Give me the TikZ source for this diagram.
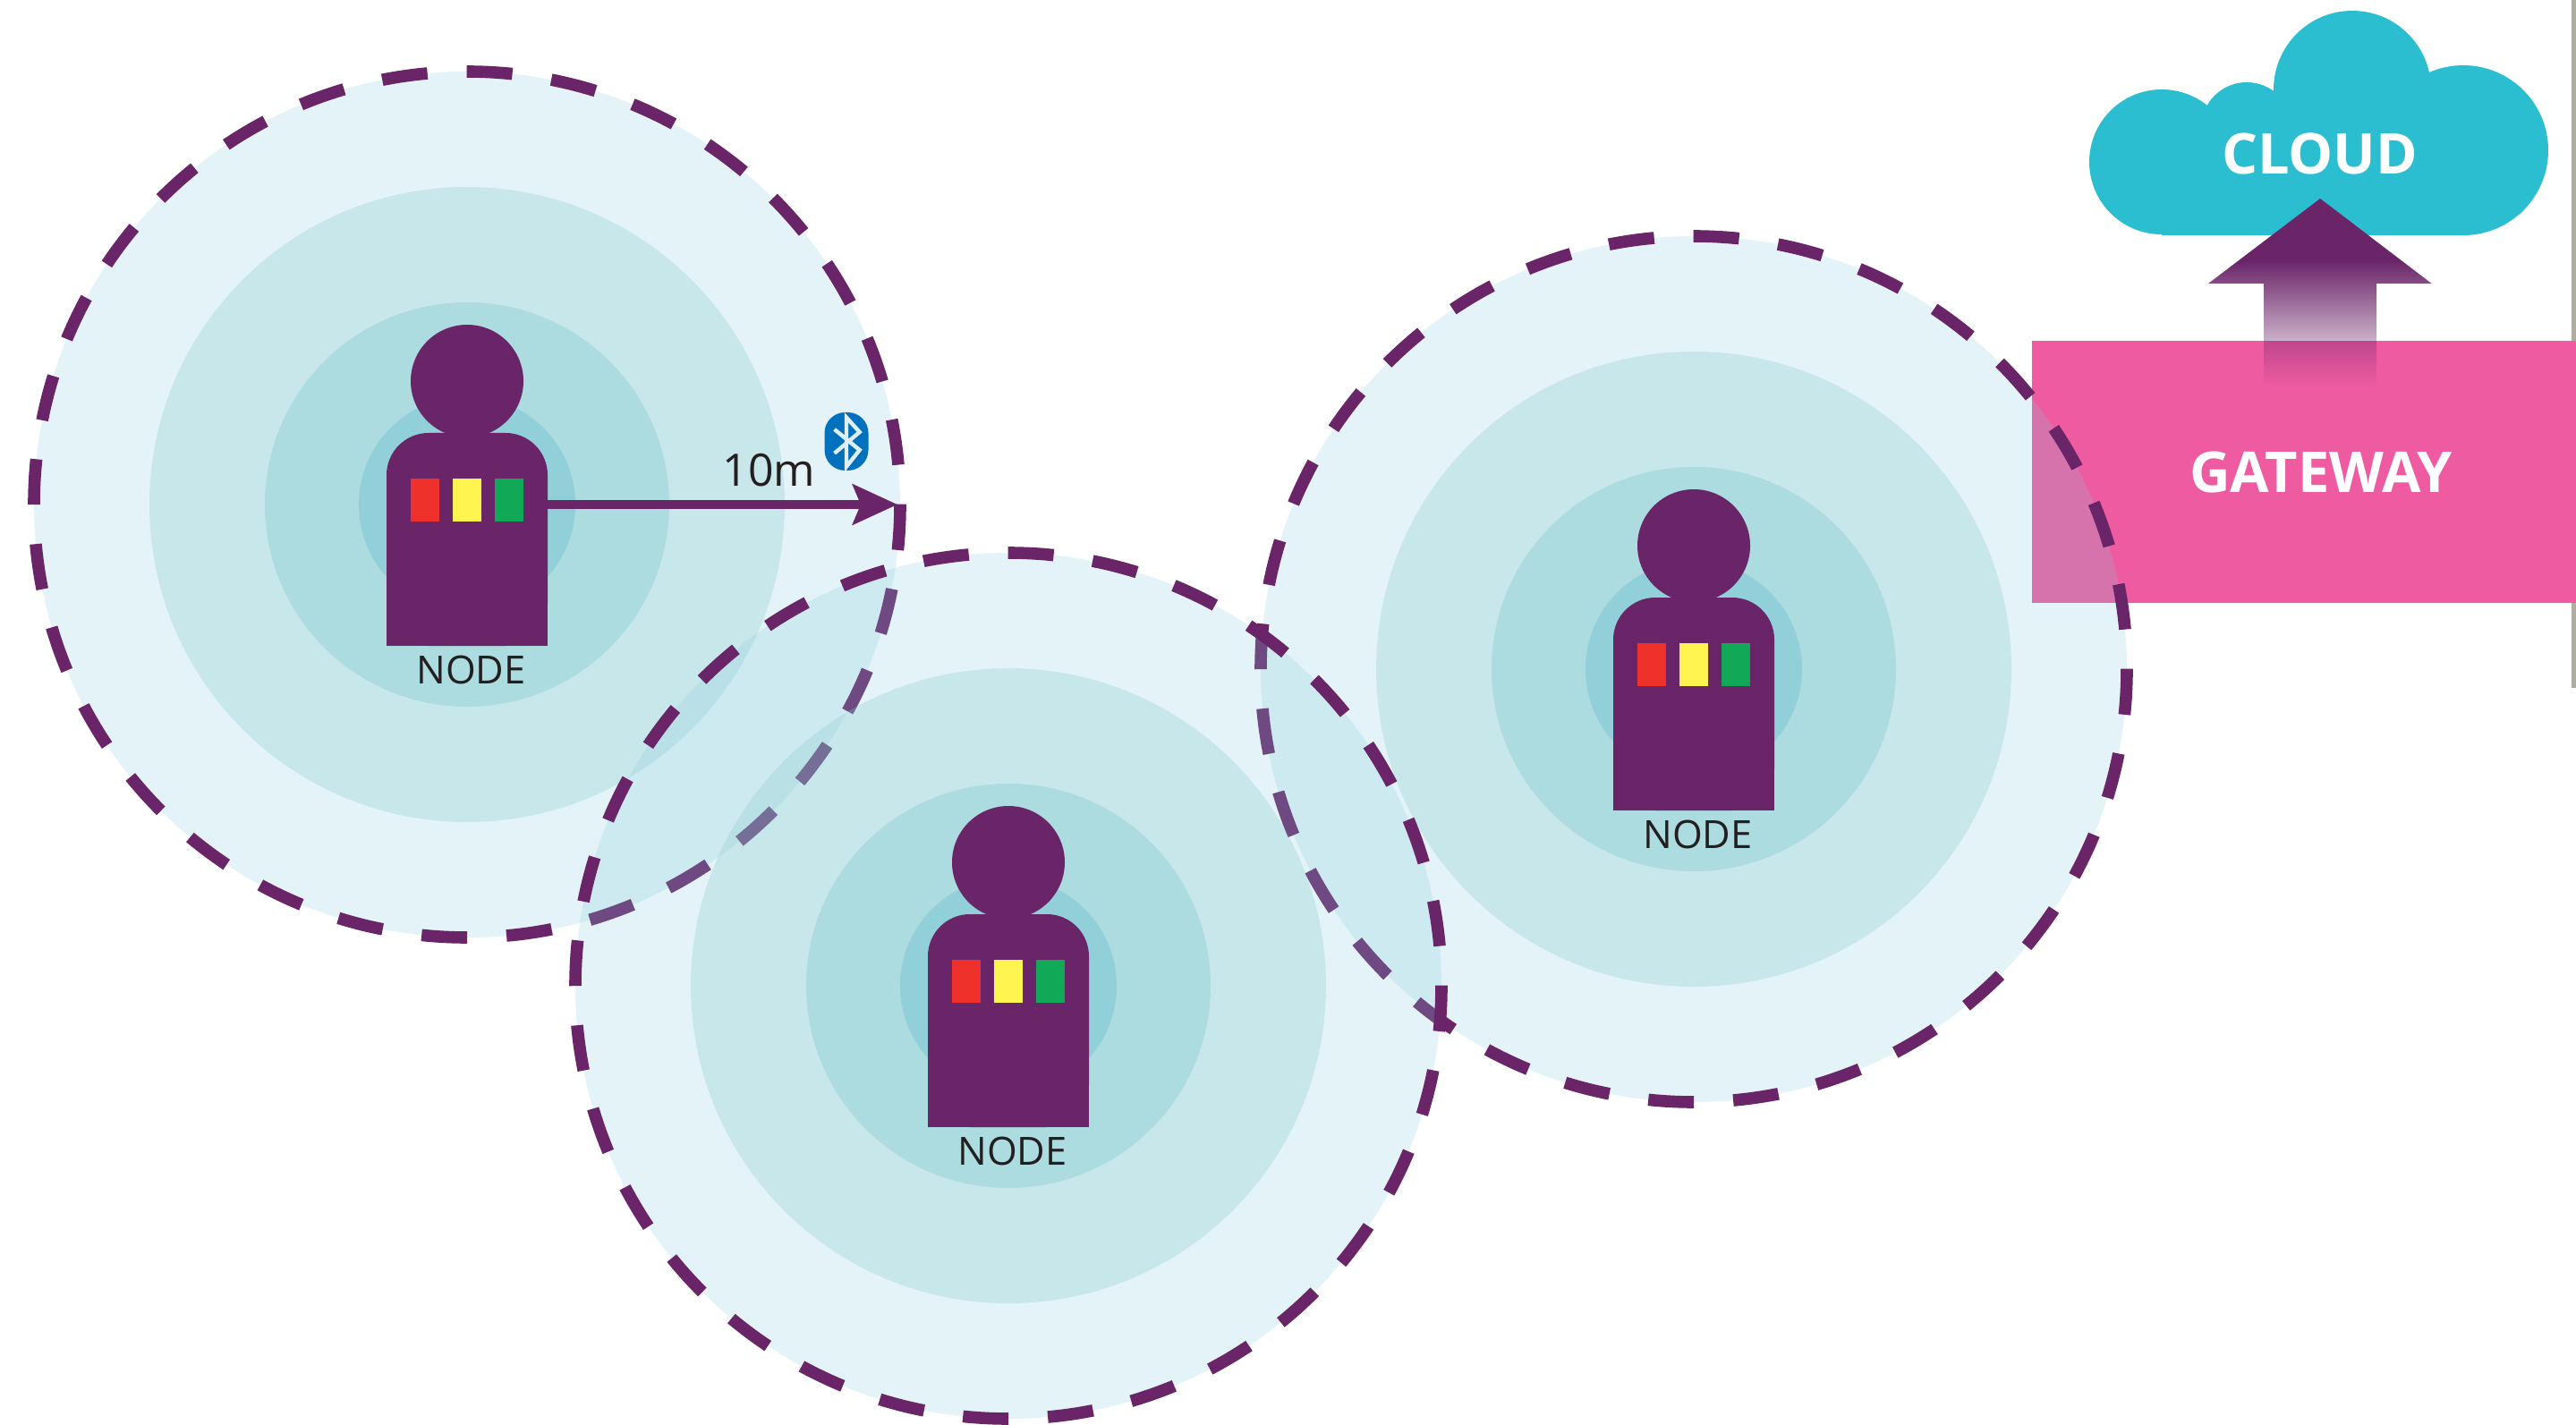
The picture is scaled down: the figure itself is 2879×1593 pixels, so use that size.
\documentclass[tikz,border=0pt]{standalone}
\usepackage{fontspec}
\setmainfont{Open Sans}
\usetikzlibrary{arrows.meta, positioning, fadings}

\definecolor{plum}{HTML}{6A2468}
\definecolor{ringa}{RGB}{130,202,219}
\definecolor{ringb}{RGB}{134,201,202}
\definecolor{ringc}{RGB}{130,202,210}
\definecolor{ringd}{RGB}{106,191,206}
\definecolor{gatepink}{HTML}{EF5BA1}
\definecolor{cloudblue}{HTML}{2BBED1}
\definecolor{btblue}{HTML}{0071BC}
\definecolor{btlight}{HTML}{DDEEF6}
\definecolor{edgegrey}{HTML}{B0ACA0}
\definecolor{inkblack}{HTML}{231F20}
\definecolor{chipred}{HTML}{EE312B}
\definecolor{chipyellow}{HTML}{FFF450}
\definecolor{chipgreen}{HTML}{11A858}

\pgfdeclareverticalshading{uplinkshade}{100bp}{color(0bp)=(pgftransparent!100); color(25bp)=(pgftransparent!100); color(58.5bp)=(pgftransparent!0); color(100bp)=(pgftransparent!0)}
\pgfdeclarefading{uplinkfade}{\pgfuseshading{uplinkshade}}

\tikzset{
    every node/.style={inner sep=0pt, outer sep=0pt},
    zonea/.style={circle, fill=ringa, fill opacity=.225, minimum size=484pt},
    zoneb/.style={circle, fill=ringb, fill opacity=.29, minimum size=355pt},
    zonec/.style={circle, fill=ringc, fill opacity=.4, minimum size=226pt},
    zoned/.style={circle, fill=ringd, fill opacity=.4, minimum size=121pt},
    rangeline/.style={draw=plum, line width=6.8pt, dash pattern=on 25.5pt off 22.016pt},
    personhead/.style={circle, fill=plum, minimum size=63pt},
    personbody/.style={fill=plum, minimum width=90pt, minimum height=119pt, rounded corners=23.5pt},
    chip/.style={minimum width=16pt, minimum height=24pt},
    nodelabel/.style={text=inkblack, font=\fontsize{21.7}{26}\selectfont},
    linkarrow/.style={draw=plum, line width=4.5pt, -{Stealth[length=25pt, width=22.5pt, inset=4.5pt]}},
    gatewaybox/.style={fill=gatepink, minimum width=304pt, minimum height=146.25pt, text=white, font=\fontsize{31.5}{38}\selectfont\bfseries},
    cloudlabel/.style={text=white, font=\fontsize{31.5}{38}\selectfont\bfseries},
    btblob/.style={fill=btblue, minimum width=24.5pt, minimum height=32.5pt, rounded corners=11.5pt},
}

\begin{document}
\begin{tikzpicture}[x=.5pt, y=-.5pt]
        \useasboundingbox (0,0) rectangle (2879,1593);

        \fill[edgegrey] (2874,0) rectangle (2879,769);
        \node[gatewaybox] (gateway) at (2575,527.5) {\hspace*{19pt}GATEWAY};

        \foreach \name/\cx/\cy in {1/522/564, 3/1893/748, 2/1127/1102} {
            \node[zonea] (outer\name) at (\cx,\cy) {};
            \node[zoneb] (middle\name) at (\cx,\cy) {};
            \node[zonec] (inner\name) at (\cx,\cy) {};
            \node[zoned] (core\name) at (\cx,\cy) {};
            \path[rangeline] (outer\name.east) arc (0:360:484);

            \node[personbody, yshift=-19.5pt] (body\name) at (core\name) {};
            \fill[plum] (body\name.west) rectangle (body\name.south east);
            \node[personhead, above=-2.5pt of body\name] (head\name) {};
            \node[chip, fill=chipyellow, yshift=22pt] (yellow\name) at (body\name) {};
            \node[chip, fill=chipred, left=7.5pt of yellow\name] (red\name) {};
            \node[chip, fill=chipgreen, right=7.5pt of yellow\name] (green\name) {};
            \node[nodelabel, below=5.5pt of body\name, xshift=2.25pt] (label\name) {NODE};
        }

        \draw[linkarrow, shorten >=1.5pt] (body1.east |- outer1.center) -- (outer1.east);
        \node[nodelabel, font=\fontsize{25}{30}\selectfont] (range) at (859.5,526) {10m};

        \node[btblob] (bluetooth) at (946,493.5) {};
        \draw[btlight, line width=2.2pt]
            (932.6,480) -- (960.7,503) -- (946,521.7) -- (946,466.7) -- (960.7,483) -- (932.6,506.7);

        \fill[cloudblue]
            (2416,181) circle (81)
            (2511,143) circle (51)
            (2629,100) circle (88)
            (2753,168) circle (95);
        \fill[cloudblue] (2416,130) rectangle (2753,263);
        \node[cloudlabel] (cloud) at (2592.5,172) {CLOUD};

        \coordinate (uptip) at (2593,222);
        \fill[plum, path fading=uplinkfade]
            (uptip) -- ++(124.5,95) -- ++(-61.5,0) -- ++(0,114) -- ++(-126,0)
            -- ++(0,-114) -- ++(-62,0) -- cycle;
\end{tikzpicture}
\end{document}
